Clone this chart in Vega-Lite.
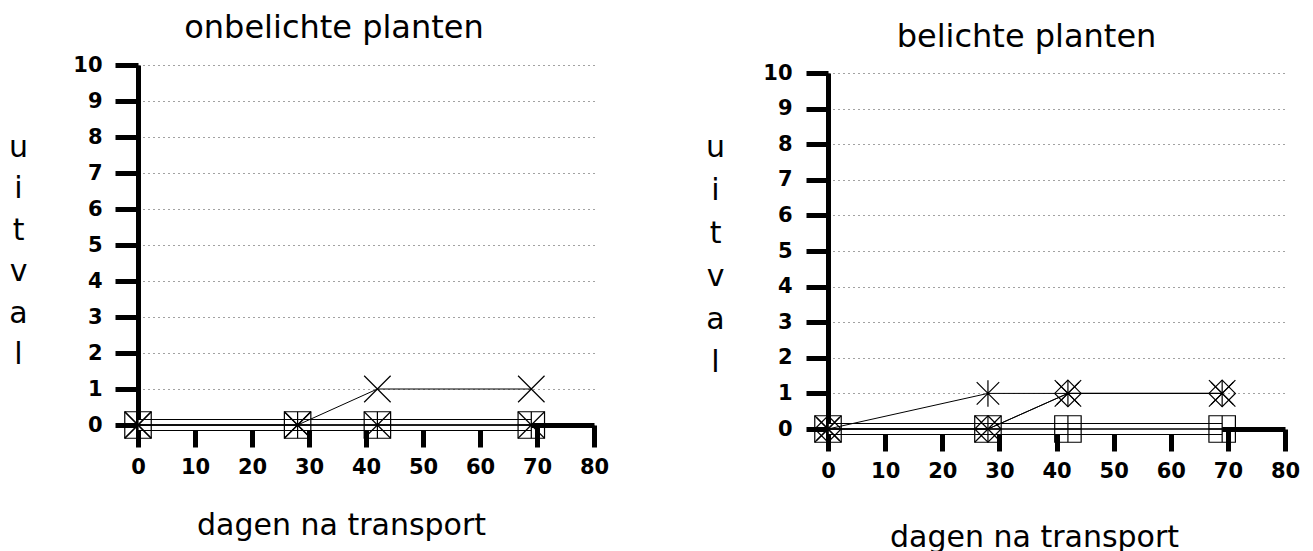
{
  "$schema": "https://vega.github.io/schema/vega-lite/v6.json",
  "background": "white",
  "padding": {"left": 8, "top": 12, "right": 5, "bottom": 5},
  "config": {
    "view": {"stroke": null},
    "axis": {
      "domainColor": "black", "domainWidth": 5, "tickColor": "black", "tickWidth": 5,
      "labelFont": "DejaVu Sans", "labelFontSize": 21, "labelFontWeight": "bold", "labelColor": "black",
      "titleFont": "DejaVu Sans", "titleFontSize": 30, "titleFontWeight": "normal", "titleColor": "black",
      "gridColor": "#444", "gridDash": [1, 4], "gridWidth": 1
    },
    "title": {"font": "DejaVu Sans", "fontSize": 32, "fontWeight": "normal", "color": "black", "baseline": "alphabetic"}
  },
  "datasets": {
    "links": [
      {"reeks": "vierkant", "dag": 0, "uitval": 0}, {"reeks": "vierkant", "dag": 28, "uitval": 0}, {"reeks": "vierkant", "dag": 42, "uitval": 0}, {"reeks": "vierkant", "dag": 69, "uitval": 0},
      {"reeks": "kruis", "dag": 0, "uitval": 0}, {"reeks": "kruis", "dag": 28, "uitval": 0}, {"reeks": "kruis", "dag": 42, "uitval": 1}, {"reeks": "kruis", "dag": 69, "uitval": 1},
      {"reeks": "kruis2", "dag": 0, "uitval": 0}, {"reeks": "kruis2", "dag": 28, "uitval": 0}, {"reeks": "kruis2", "dag": 42, "uitval": 0}, {"reeks": "kruis2", "dag": 69, "uitval": 0},
      {"reeks": "plus", "dag": 0, "uitval": 0}, {"reeks": "plus", "dag": 28, "uitval": 0}, {"reeks": "plus", "dag": 42, "uitval": 0}, {"reeks": "plus", "dag": 69, "uitval": 0}
    ],
    "rechts": [
      {"reeks": "vierkant", "dag": 0, "uitval": 0}, {"reeks": "vierkant", "dag": 28, "uitval": 0}, {"reeks": "vierkant", "dag": 42, "uitval": 0}, {"reeks": "vierkant", "dag": 69, "uitval": 0},
      {"reeks": "plus", "dag": 0, "uitval": 0}, {"reeks": "plus", "dag": 28, "uitval": 0}, {"reeks": "plus", "dag": 42, "uitval": 0}, {"reeks": "plus", "dag": 69, "uitval": 0},
      {"reeks": "ster", "dag": 0, "uitval": 0}, {"reeks": "ster", "dag": 28, "uitval": 1}, {"reeks": "ster", "dag": 42, "uitval": 1}, {"reeks": "ster", "dag": 69, "uitval": 1},
      {"reeks": "kruis", "dag": 0, "uitval": 0}, {"reeks": "kruis", "dag": 28, "uitval": 0}, {"reeks": "kruis", "dag": 42, "uitval": 1}, {"reeks": "kruis", "dag": 69, "uitval": 1},
      {"reeks": "ruit", "dag": 0, "uitval": 0}, {"reeks": "ruit", "dag": 28, "uitval": 0}, {"reeks": "ruit", "dag": 42, "uitval": 1}, {"reeks": "ruit", "dag": 69, "uitval": 1}
    ]
  },
  "resolve": {"scale": {"shape": "independent"}},
  "hconcat": [
    {
      "width": 464, "height": 360,
      "title": {"text": "onbelichte planten", "offset": 9, "dx": -36},
      "data": {"name": "links"},
      "encoding": {
        "x": {"field": "dag", "type": "quantitative",
          "scale": {"domain": [0, 80], "range": [0, 456]},
          "axis": {"values": [0, 10, 20, 30, 40, 50, 60, 70, 80], "grid": false, "tickSize": 22, "labelPadding": 9, "labelFlush": false,
            "title": "dagen na transport", "titleX": 203, "titleY": 109, "titleBaseline": "alphabetic", "titleAlign": "center", "titleAnchor": null}},
        "y": {"field": "uitval", "type": "quantitative",
          "scale": {"domain": [0, 10]},
          "axis": {"values": [0, 1, 2, 3, 4, 5, 6, 7, 8, 9, 10], "grid": true, "tickSize": 23, "labelPadding": 13, "labelFlush": false,
            "title": ["u", "i", "t", "v", "a", "l"], "titleAngle": 0, "titleX": -120, "titleY": 91, "titleBaseline": "alphabetic", "titleAlign": "center", "titleLineHeight": 41.5}}
      },
      "layer": [
        {"transform": [{"filter": "datum.reeks === 'vierkant'"}], "mark": {"type": "line", "color": "black", "strokeWidth": 12}, "encoding": {"detail": {"field": "reeks"}}},
        {"transform": [{"filter": "datum.reeks === 'vierkant'"}], "mark": {"type": "line", "color": "white", "strokeWidth": 10}, "encoding": {"detail": {"field": "reeks"}}},
        {"mark": {"type": "line", "color": "black", "strokeWidth": 1}, "encoding": {"detail": {"field": "reeks"}}},
        {"mark": {"type": "point", "filled": false, "color": "black", "strokeWidth": 1.2, "size": 700, "opacity": 1},
          "encoding": {"shape": {"field": "reeks", "type": "nominal", "legend": null,
            "scale": {"domain": ["vierkant", "kruis", "kruis2", "plus"],
              "range": ["M-1,-1H1V1H-1Z", "M-1,-1L1,1M1,-1L-1,1", "M-1,-1L1,1M1,-1L-1,1", "M0,-1V1M-1,0H1"]}}}}
      ]
    },
    {
      "width": 463, "height": 364,
      "title": {"text": "belichte planten", "offset": 8, "dx": -33},
      "data": {"name": "rechts"},
      "encoding": {
        "x": {"field": "dag", "type": "quantitative",
          "scale": {"domain": [0, 80], "range": [0, 457]},
          "axis": {"values": [0, 10, 20, 30, 40, 50, 60, 70, 80], "grid": false, "tickSize": 22, "labelPadding": 9, "labelFlush": false,
            "title": "dagen na transport", "titleX": 206, "titleY": 117, "titleBaseline": "alphabetic", "titleAlign": "center", "titleAnchor": null}},
        "y": {"field": "uitval", "type": "quantitative",
          "scale": {"domain": [0, 10], "range": [364, 8]},
          "axis": {"values": [0, 1, 2, 3, 4, 5, 6, 7, 8, 9, 10], "grid": true, "tickSize": 22, "labelPadding": 14, "labelFlush": false,
            "title": ["u", "i", "t", "v", "a", "l"], "titleAngle": 0, "titleX": -113, "titleY": 91, "titleBaseline": "alphabetic", "titleAlign": "center", "titleLineHeight": 43}}
      },
      "layer": [
        {"transform": [{"filter": "datum.reeks === 'vierkant'"}], "mark": {"type": "line", "color": "black", "strokeWidth": 12}, "encoding": {"detail": {"field": "reeks"}}},
        {"transform": [{"filter": "datum.reeks === 'vierkant'"}], "mark": {"type": "line", "color": "white", "strokeWidth": 10}, "encoding": {"detail": {"field": "reeks"}}},
        {"mark": {"type": "line", "color": "black", "strokeWidth": 1}, "encoding": {"detail": {"field": "reeks"}}},
        {"mark": {"type": "point", "filled": false, "color": "black", "strokeWidth": 1.2, "size": 700, "opacity": 1},
          "encoding": {"shape": {"field": "reeks", "type": "nominal", "legend": null,
            "scale": {"domain": ["vierkant", "plus", "ster", "kruis", "ruit"],
              "range": ["M-1,-1H1V1H-1Z", "M0,-1V1M-1,0H1", "M0,-1V1M-0.85,-0.85L0.85,0.85M0.85,-0.85L-0.85,0.85", "M-1,-1L1,1M1,-1L-1,1", "M0,-1L1,0L0,1L-1,0Z"]}}}}
      ]
    }
  ],
  "spacing": 96
}
